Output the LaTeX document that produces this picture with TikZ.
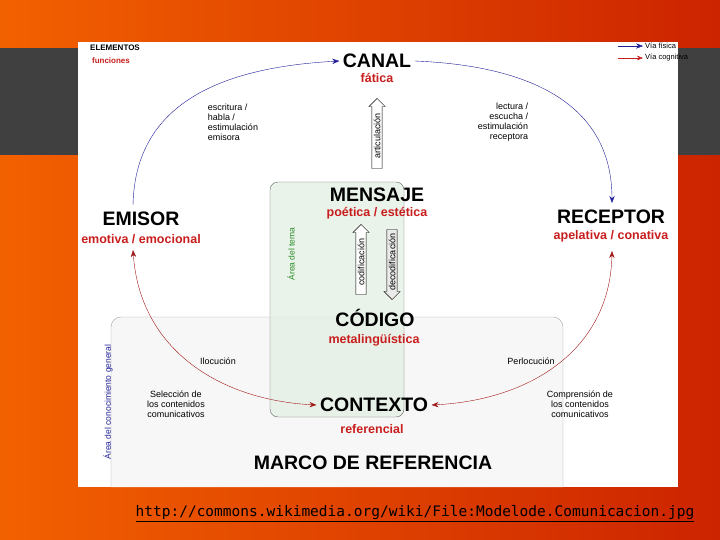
\documentclass[tikz,border=0pt]{standalone}
\usepackage{fontspec}
\setsansfont{Liberation Sans}
\setmonofont{DejaVu Sans Mono}
\usetikzlibrary{shapes.arrows,arrows.meta}
\definecolor{fred}{RGB}{200,30,30}
\definecolor{fblue}{RGB}{30,30,150}
\definecolor{fgreen}{RGB}{40,140,40}
\tikzset{
  elem/.style={font=\sffamily\bfseries\fontsize{19.5}{19.5}\selectfont},
  func/.style={font=\sffamily\bfseries\fontsize{12.5}{12.5}\selectfont, text=fred},
  note/.style={font=\sffamily\fontsize{9}{10}\selectfont, align=left, inner sep=0pt},
  fis/.style={fblue, -{Stealth[length=7pt]}},
  cog/.style={fred!80!black, {Stealth[length=7pt]}-{Stealth[length=7pt]}},
  hollow/.style={single arrow, draw, fill=white, single arrow head extend=3pt,
    minimum height=70pt, minimum width=16pt, inner sep=1.5pt, font=\sffamily\fontsize{9}{9}\selectfont}
}
\begin{document}
\begin{tikzpicture}[x=1pt,y=-1pt]
	\useasboundingbox (0,0) rectangle (720,540);
	% slide background
	\shade[left color=orange!80!red!95!black, right color=red!65!orange!80!black] (0,0) rectangle (720,540);
	\fill[black!75] (0,48) rectangle (78,155);
	\fill[black!75] (678,48) rectangle (720,155);
	\fill[white] (78,42) rectangle (678,487);
	% areas
	\draw[black!35, fill=black!3, rounded corners=10pt] (111,487) -- (111,317) -- (563,317) -- (563,487);
	\draw[black!60, fill=green!40!black!10, fill opacity=0.8, rounded corners=8pt] (270,182) rectangle (404,417);
	\node[rotate=90, text=fgreen, font=\sffamily\fontsize{8.5}{8.5}\selectfont] (tema) at (291,254) {Área del tema};
	\node[rotate=90, text=fblue, font=\sffamily\fontsize{8.5}{8.5}\selectfont] (gral) at (108,402) {Área del conocimiento general};

	\node[font=\sffamily\bfseries\fontsize{8}{8}\selectfont] (elementos) at (115,48) {ELEMENTOS};
	\node[func, font=\sffamily\bfseries\fontsize{8}{8}\selectfont] (funciones) at (111,61) {funciones};

	\node[elem] (canal) at (377,61) {CANAL};
	\node[func] (fatica) at (377,78) {fática};
	\node[elem] (emisor) at (141,219) {EMISOR};
	\node[func] (emotiva) at (141,239) {emotiva / emocional};
	\node[elem] (receptor) at (611,217) {RECEPTOR};
	\node[func] (apelativa) at (611,236) {apelativa / conativa};
	\node[elem] (mensaje) at (377,195) {MENSAJE};
	\node[func] (poetica) at (377,213) {poética / estética};
	\node[elem] (codigo) at (375,318) {CÓDIGO};
	\node[func] (metaling) at (374,340) {metalingüística};
	\node[elem] (contexto) at (374,405) {CONTEXTO};
	\node[func] (referencial) at (372,429) {referencial};
	\node[elem] (marco) at (373,463) {MARCO DE REFERENCIA};

	% hollow arrows
	\node[hollow, rotate=90] (articulacion) at (377,136) {articulación};
	\node[hollow, rotate=90] (codif) at (361,262) {codificación};
	\node[hollow, rotate=-90, fill=black!8] (decodif) at (392,262) {\rotatebox{180}{decodificación}};

	% connectors
	\coordinate (emtop) at (133,205);
	\coordinate (embot) at (133,250);
	\coordinate (retop) at (612,203);
	\coordinate (rebot) at (612,251);
	\draw[fis] (emtop) .. controls (135,110) and (210,68) .. (canal.west);
	\draw[fis] (canal.east) .. controls (540,66) and (612,110) .. (retop);
	\draw[cog] (embot) .. controls (140,350) and (220,400) .. (contexto.west);
	\draw[cog] (rebot) .. controls (610,350) and (530,400) .. (contexto.east);

	\node[note] (escritura) at (233,122) {escritura /\\habla /\\estimulación\\emisora};
	\node[note, align=right] (lectura) at (503,122) {lectura /\\escucha /\\estimulación\\receptora};
	\node[note] (ilocucion) at (218,361) {Ilocución};
	\node[note] (perlocucion) at (531,361) {Perlocución};
	\node[note, align=center] (seleccion) at (176,404) {Selección de\\los contenidos\\comunicativos};
	\node[note, align=center] (comprension) at (580,404) {Comprensión de\\los contenidos\\comunicativos};

	% legend
	\coordinate (la) at (618,46); \coordinate (lb) at (643,46);
	\coordinate (lc) at (618,58); \coordinate (ld) at (643,58);
	\draw[fis] (la) -- (lb);
	\draw[fred, -{Stealth[length=6pt]}] (lc) -- (ld);
	\node[note, anchor=west, font=\sffamily\fontsize{7.5}{7.5}\selectfont] (vfis) at (645,46) {Vía física};
	\node[note, anchor=west, font=\sffamily\fontsize{7.5}{7.5}\selectfont] (vcog) at (645,58) {Vía cognitiva};

	\node[font=\ttfamily\fontsize{14.5}{14.5}\selectfont] (url) at (415,514) {\underline{http://commons.wikimedia.org/wiki/File:Modelode.Comunicacion.jpg}};
\end{tikzpicture}
\end{document}
